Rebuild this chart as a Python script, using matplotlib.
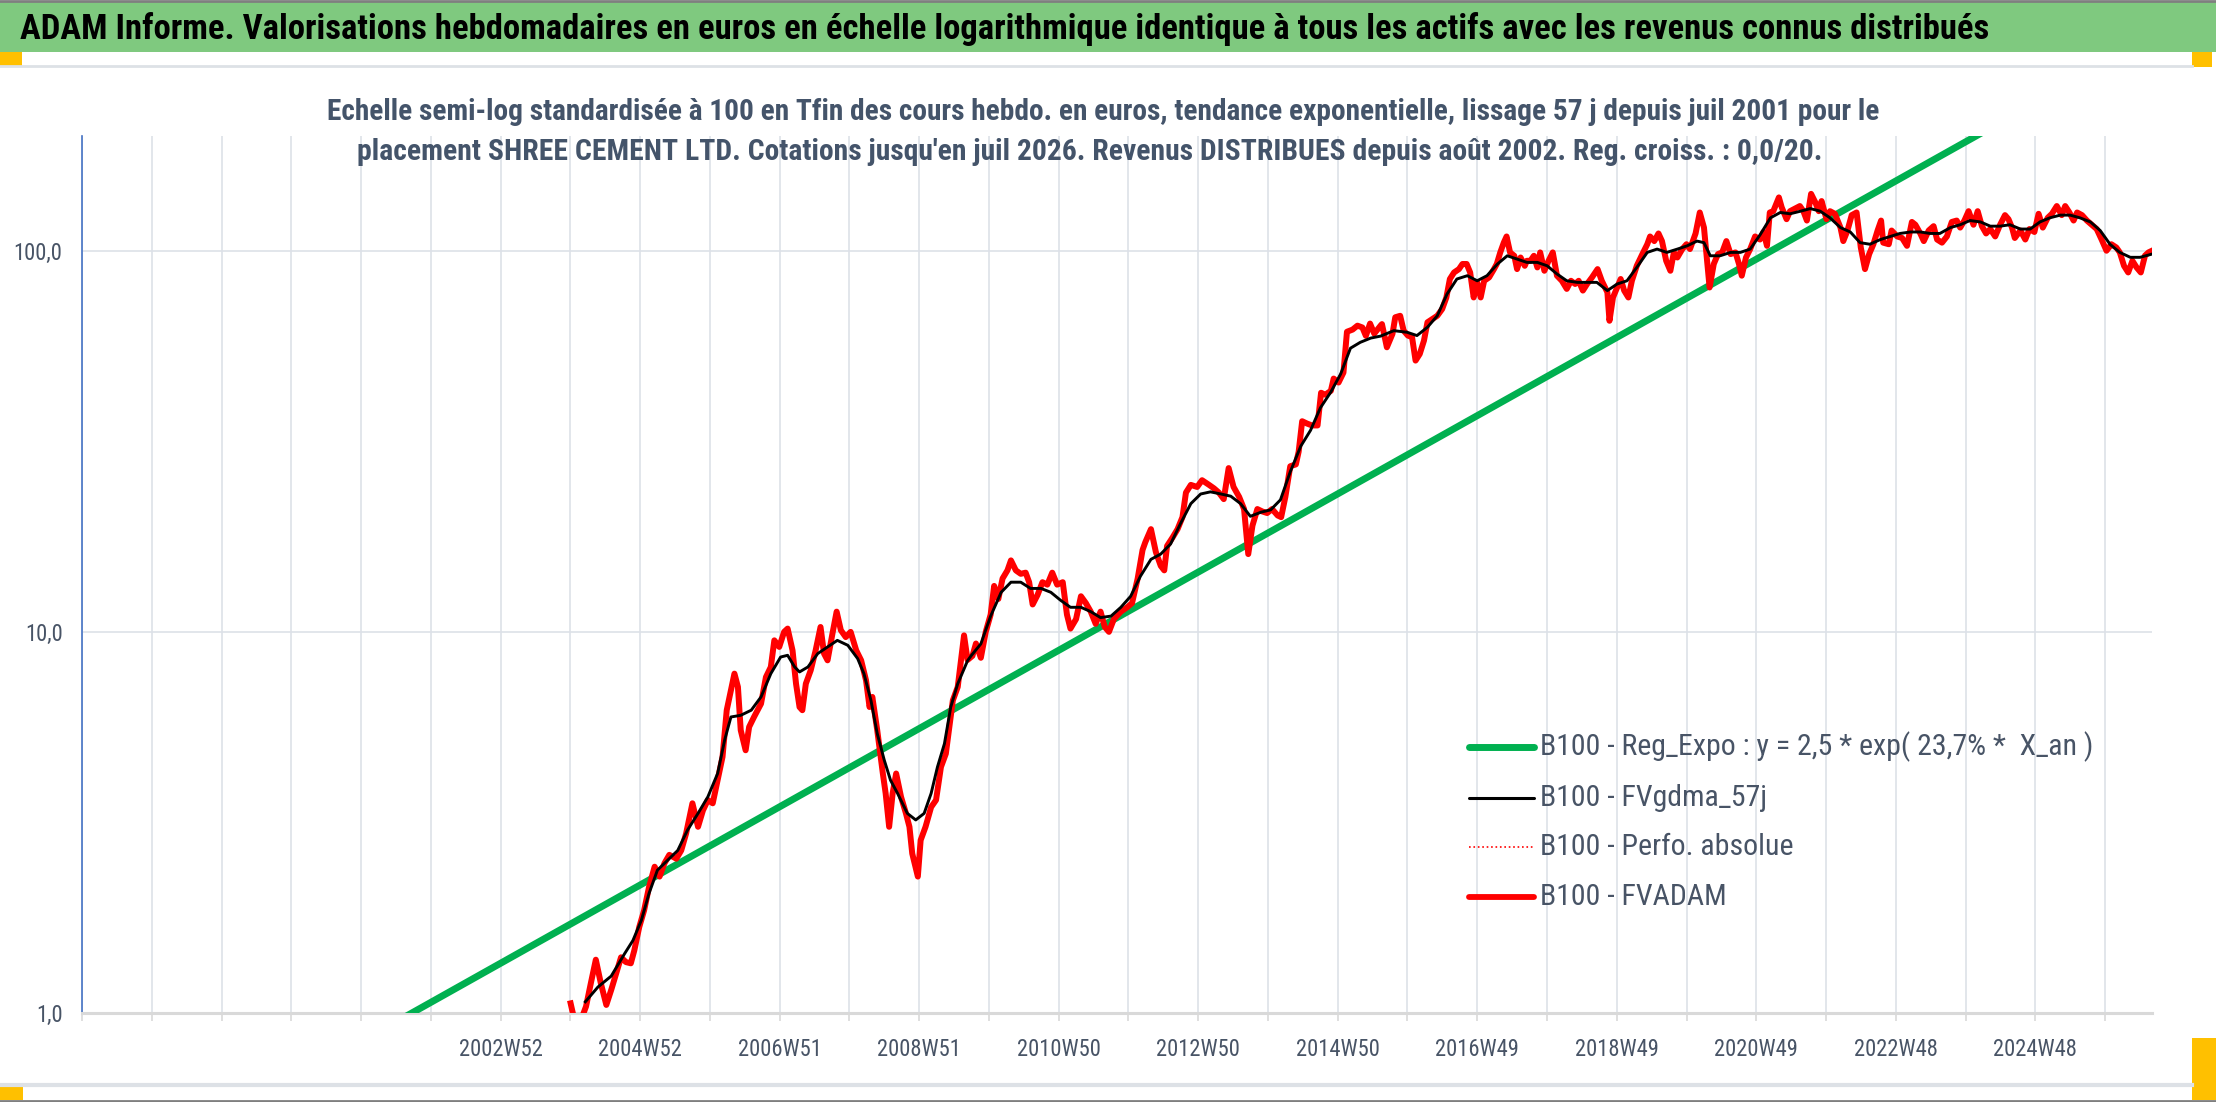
import matplotlib.pyplot as plt
from matplotlib import font_manager
from matplotlib.patches import Rectangle
from matplotlib.lines import Line2D
from matplotlib.ticker import FixedLocator, NullLocator

# the chart uses a narrow Calibri-like face; take the narrowest one installed
installed = {f.name for f in font_manager.fontManager.ttflist}
main_font = 'DejaVu Sans'
for cand in ['Liberation Sans Narrow', 'Roboto Condensed', 'Open Sans Condensed', 'Lato',
             'Roboto', 'Liberation Sans']:
    if cand in installed:
        main_font = cand
        break
plt.rcParams['font.family'] = [main_font, 'DejaVu Sans']

# ---- data (decimal years, base 100 values) ----
red_years = [
    2003.99, 2004.06, 2004.13, 2004.21, 2004.28, 2004.35, 2004.42, 2004.50, 2004.57, 2004.64,
    2004.71, 2004.78, 2004.85, 2004.90, 2004.97, 2005.04, 2005.11, 2005.19, 2005.26, 2005.33,
    2005.40, 2005.50, 2005.57, 2005.64, 2005.73, 2005.81, 2005.88, 2005.95, 2006.02, 2006.09,
    2006.16, 2006.22, 2006.28, 2006.33, 2006.38, 2006.42, 2006.49, 2006.54, 2006.61, 2006.71,
    2006.78, 2006.85, 2006.90, 2006.97, 2007.04, 2007.09, 2007.16, 2007.21, 2007.26, 2007.30,
    2007.35, 2007.42, 2007.49, 2007.56, 2007.61, 2007.66, 2007.73, 2007.79, 2007.85, 2007.92,
    2007.99, 2008.07, 2008.14, 2008.21, 2008.26, 2008.30, 2008.37, 2008.45, 2008.49, 2008.54,
    2008.59, 2008.64, 2008.71, 2008.78, 2008.83, 2008.87, 2008.95, 2008.99, 2009.06, 2009.14,
    2009.21, 2009.28, 2009.35, 2009.40, 2009.45, 2009.52,
    2009.61, 2009.66, 2009.73, 2009.78, 2009.85, 2009.92, 2009.99, 2010.04, 2010.10, 2010.16,
    2010.23, 2010.28, 2010.35, 2010.42, 2010.49, 2010.54, 2010.59, 2010.66, 2010.73, 2010.80,
    2010.87, 2010.94, 2011.02, 2011.08, 2011.13, 2011.21, 2011.28, 2011.35, 2011.42, 2011.49,
    2011.56, 2011.62, 2011.68, 2011.75, 2011.85, 2011.94, 2012.01, 2012.09, 2012.16, 2012.20,
    2012.28, 2012.35, 2012.42, 2012.47, 2012.51, 2012.59, 2012.66, 2012.73, 2012.78, 2012.85,
    2012.94, 2013.01, 2013.11, 2013.18, 2013.25, 2013.32, 2013.39, 2013.46, 2013.54, 2013.61,
    2013.67, 2013.73, 2013.80, 2013.87, 2013.94, 2014.01, 2014.09, 2014.14, 2014.20, 2014.27,
    2014.35, 2014.39, 2014.44, 2014.51, 2014.58, 2014.66, 2014.71, 2014.77, 2014.85, 2014.89,
    2014.96, 2015.03, 2015.08, 2015.16, 2015.23, 2015.30, 2015.35, 2015.41, 2015.47, 2015.56,
    2015.58, 2015.65, 2015.73, 2015.77, 2015.84, 2015.89, 2015.95, 2016.01, 2016.06, 2016.12,
    2016.18, 2016.23, 2016.30, 2016.37, 2016.44, 2016.50, 2016.55, 2016.61, 2016.68, 2016.73,
    2016.79, 2016.84, 2016.89, 2016.94, 2016.99, 2017.04, 2017.11, 2017.18, 2017.22, 2017.27,
    2017.32, 2017.36, 2017.41, 2017.47, 2017.51, 2017.56, 2017.62, 2017.65, 2017.70, 2017.75,
    2017.80, 2017.84, 2017.90, 2017.96, 2018.02, 2018.08, 2018.15, 2018.22, 2018.28, 2018.34,
    2018.39, 2018.45, 2018.51, 2018.58, 2018.66, 2018.72, 2018.80, 2018.83, 2018.88, 2018.94,
    2018.99, 2019.04, 2019.10, 2019.15, 2019.22, 2019.30, 2019.37, 2019.41, 2019.47, 2019.53,
    2019.58, 2019.64, 2019.70, 2019.75, 2019.80, 2019.87, 2019.93, 2019.98, 2020.06, 2020.12,
    2020.18, 2020.22, 2020.26, 2020.32, 2020.38, 2020.44, 2020.50, 2020.56, 2020.63, 2020.68,
    2020.72, 2020.78, 2020.84, 2020.91, 2020.98, 2021.03, 2021.08,
    2021.12, 2021.17, 2021.25, 2021.29, 2021.36, 2021.41, 2021.48, 2021.55, 2021.60, 2021.65,
    2021.71, 2021.77, 2021.82, 2021.86, 2021.93, 2021.98, 2022.05, 2022.13, 2022.17, 2022.23,
    2022.29, 2022.36, 2022.42, 2022.48, 2022.54, 2022.60, 2022.66, 2022.71, 2022.74, 2022.82,
    2022.86, 2022.94, 2023.01, 2023.08, 2023.15, 2023.20, 2023.27, 2023.32, 2023.39, 2023.46,
    2023.51, 2023.58, 2023.65, 2023.72, 2023.79, 2023.84, 2023.90, 2023.96, 2024.03, 2024.09,
    2024.15, 2024.21, 2024.27, 2024.34, 2024.41, 2024.48, 2024.53, 2024.58, 2024.62, 2024.70,
    2024.77, 2024.83, 2024.90, 2024.96, 2025.02, 2025.09, 2025.15, 2025.22, 2025.29, 2025.34,
    2025.40, 2025.46, 2025.51, 2025.58, 2025.65, 2025.72, 2025.79, 2025.86, 2025.93, 2026.00,
    2026.07, 2026.12, 2026.18, 2026.24, 2026.30, 2026.36, 2026.42, 2026.48, 2026.53, 2026.58,
]
red_vals = [
    1.06, 0.93, 0.95, 1.04, 1.20, 1.38, 1.20, 1.05, 1.15, 1.27,
    1.40, 1.36, 1.35, 1.46, 1.68, 1.86, 2.14, 2.42, 2.28, 2.47,
    2.60, 2.54, 2.67, 2.96, 3.55, 3.08, 3.40, 3.62, 3.55, 4.08,
    4.70, 6.23, 7.03, 7.77, 7.17, 5.52, 4.89, 5.63, 5.98, 6.48,
    7.61, 8.09, 9.50, 9.13, 10.0, 10.2, 8.94, 7.31, 6.35, 6.23,
    7.31, 7.93, 8.94, 10.3, 8.77, 8.42, 9.89, 11.3, 10.1, 9.69,
    10.0, 8.94, 8.42, 7.46, 6.35, 6.75, 5.52, 4.25, 3.77, 3.08,
    3.77, 4.25, 3.69, 3.34, 3.08, 2.62, 2.28, 2.84, 3.08, 3.47,
    3.62, 4.42, 4.79, 5.63, 6.61, 7.17,
    9.79, 8.44, 8.65, 9.32, 8.55, 10.0, 11.1, 13.2, 12.2, 13.8,
    14.5, 15.4, 14.5, 14.2, 14.3, 13.5, 11.8, 12.5, 13.5, 13.3,
    14.3, 13.3, 13.5, 11.1, 10.2, 10.8, 12.4, 11.9, 11.3, 10.5,
    11.3, 10.3, 10.0, 10.8, 11.3, 11.6, 11.9, 13.8, 16.4, 17.2,
    18.6, 16.2, 14.9, 14.5, 16.8, 17.7, 18.6, 20.0, 23.2, 24.3,
    24.0, 25.0, 24.3, 23.8, 23.2, 22.3, 26.9, 24.0, 22.6, 21.0,
    16.0, 19.0, 21.0, 20.7, 20.5, 21.0, 20.2, 20.0, 22.6, 27.2,
    27.5, 29.7, 35.7, 35.2, 34.8, 34.8, 42.4, 41.9, 42.9, 46.2,
    45.1, 47.9, 61.3, 62.1, 63.6, 62.9, 59.8, 64.4, 60.6, 63.6,
    64.2, 55.8, 60.5, 66.9, 67.5, 61.7, 59.9, 59.3, 51.5, 53.6,
    58.1, 64.9, 66.2, 67.5, 70.3, 75.4, 84.3, 87.7, 89.5, 92.3,
    92.3, 87.7, 75.4, 82.6, 75.4, 83.4, 85.1, 89.5, 92.3, 99.0,
    105, 109, 99.0, 97.0, 89.5, 96.0, 91.3, 94.1, 94.1, 97.0,
    90.4, 99.0, 88.6, 94.1, 99.0, 86.0, 83.4, 79.4, 83.4, 81.8,
    83.4, 78.6, 81.8, 85.1, 89.5, 83.4, 77.8, 65.5, 75.4, 80.1,
    84.3, 78.6, 75.4, 83.4, 91.3, 98.0, 104, 109, 106, 111,
    106, 94.1, 88.6, 99.0, 96.0, 101, 104, 101, 111, 126,
    115, 96.0, 80.1, 92.3, 98.0, 99.0, 106, 98.0, 99.0, 92.3,
    86.0, 96.0, 101, 109, 107, 112, 103,
    126, 127, 138, 130, 121, 127, 129, 131, 127, 120,
    141, 134, 127, 135, 121, 127, 125, 115, 106, 113,
    124, 126, 102, 89.5, 98.0, 104, 113, 120, 105, 104,
    113, 109, 108, 103, 119, 117, 111, 106, 113, 116,
    107, 105, 109, 119, 120, 115, 120, 127, 117, 127,
    116, 111, 114, 109, 117, 124, 121, 115, 108, 113,
    107, 114, 112, 125, 115, 122, 125, 131, 124, 131,
    126, 120, 126, 124, 120, 117, 114, 107, 100, 104,
    102, 99.0, 91.3, 87.7, 94.1, 90.4, 87.7, 97.1, 99.0, 100,
]

black_years = [
    2004.20, 2004.38, 2004.57, 2004.76, 2004.88, 2005.00, 2005.11, 2005.23, 2005.38, 2005.52,
    2005.66, 2005.81, 2005.95, 2006.09, 2006.19, 2006.28, 2006.42, 2006.57, 2006.71, 2006.85,
    2006.99, 2007.09, 2007.19, 2007.26, 2007.38, 2007.52, 2007.66, 2007.80, 2007.95, 2008.09,
    2008.18, 2008.28, 2008.37, 2008.47, 2008.56, 2008.66, 2008.80, 2008.92, 2009.04, 2009.14,
    2009.23, 2009.33, 2009.42, 2009.52, 2009.66,
    2009.71, 2009.85, 2009.99, 2010.14, 2010.28, 2010.42, 2010.56, 2010.71, 2010.85, 2010.99,
    2011.13, 2011.28, 2011.42, 2011.56, 2011.71, 2011.85, 2011.99, 2012.13, 2012.28, 2012.42,
    2012.56, 2012.70, 2012.85, 2012.99, 2013.13, 2013.28, 2013.42, 2013.56, 2013.70, 2013.85,
    2013.99, 2014.13, 2014.27, 2014.42, 2014.56, 2014.70, 2014.85, 2014.99, 2015.13, 2015.27,
    2015.42, 2015.56, 2015.75, 2015.94, 2016.08, 2016.23, 2016.37, 2016.51, 2016.65, 2016.80,
    2016.94, 2017.08, 2017.23, 2017.37, 2017.51, 2017.65, 2017.80, 2017.94, 2018.08, 2018.22,
    2018.37, 2018.51, 2018.65, 2018.80, 2018.94, 2019.08, 2019.22, 2019.37, 2019.51, 2019.65,
    2019.80, 2019.94, 2020.08, 2020.18, 2020.27, 2020.41, 2020.56, 2020.70, 2020.84, 2020.98,
    2021.13, 2021.27, 2021.41, 2021.56, 2021.70, 2021.84, 2021.98, 2022.13, 2022.27, 2022.41,
    2022.55, 2022.70, 2022.84, 2022.98, 2023.13, 2023.27, 2023.41, 2023.55, 2023.70, 2023.84,
    2023.98, 2024.13, 2024.27, 2024.41, 2024.55, 2024.70, 2024.84, 2024.98, 2025.12, 2025.27,
    2025.41, 2025.55, 2025.70, 2025.84, 2025.98, 2026.12, 2026.27, 2026.41, 2026.58,
]
black_vals = [
    1.07, 1.17, 1.25, 1.43, 1.55, 1.75, 2.06, 2.37, 2.52, 2.67,
    3.02, 3.34, 3.69, 4.25, 5.20, 5.98, 6.04, 6.23, 6.75, 7.77,
    8.59, 8.68, 8.09, 7.85, 8.09, 8.77, 9.13, 9.50, 9.22, 8.51,
    7.77, 6.61, 5.41, 4.61, 4.08, 3.77, 3.34, 3.21, 3.34, 3.77,
    4.42, 5.09, 6.35, 7.31, 8.40,
    8.65, 9.30, 11.0, 12.7, 13.5, 13.5, 13.0, 13.0, 12.7, 12.1,
    11.6, 11.6, 11.3, 10.9, 11.0, 11.6, 12.4, 14.0, 15.5, 16.0,
    17.0, 19.2, 21.7, 23.0, 23.3, 23.0, 22.7, 21.7, 20.1, 20.6,
    20.9, 22.2, 26.3, 30.7, 33.8, 38.7, 42.6, 47.5, 55.5, 57.5,
    59.0, 59.7, 61.7, 61.1, 59.9, 63.0, 67.5, 77.0, 84.3, 86.0,
    83.4, 86.0, 92.3, 97.0, 95.1, 93.2, 93.2, 91.3, 86.9, 83.4,
    82.6, 82.6, 82.6, 78.6, 81.8, 83.4, 90.4, 99.0, 101, 99.0,
    101, 103, 106, 105, 97.0, 97.0, 99.0, 99.0, 101, 110,
    122, 126, 125, 127, 129, 127, 122, 115, 112, 105,
    104, 107, 109, 111, 112, 112, 111, 111, 115, 117,
    120, 119, 116, 116, 117, 114, 114, 119, 122, 124,
    124, 122, 119, 113, 104, 99.0, 96.1, 96.1, 98.0,
]

green_years = [2001.55, 2026.58]
green_vals = [0.96, 363.0]

x_labels = ['2002W52', '2004W52', '2006W51', '2008W51', '2010W50', '2012W50',
            '2014W50', '2016W49', '2018W49', '2020W49', '2022W48', '2024W48']
y_ticks = [1, 10, 100]
y_labels = ['1,0', '10,0', '100,0']

title = ("ADAM Informe. Valorisations hebdomadaires en euros en échelle logarithmique "
         "identique à tous les actifs avec les revenus connus distribués")
sub1 = ("Echelle semi-log standardisée à 100 en Tfin des cours hebdo. en euros, tendance "
        "exponentielle, lissage 57 j depuis juil 2001 pour le")
sub2 = ("placement SHREE CEMENT LTD. Cotations jusqu'en juil 2026. Revenus DISTRIBUES "
        "depuis août 2002. Reg. croiss. : 0,0/20.")
legend_labels = [
    "B100 - Reg_Expo : y = 2,5 * exp( 23,7% *  X_an )",
    "B100 - FVgdma_57j",
    "B100 - Perfo. absolue",
    "B100 - FVADAM",
]

W, H = 2216, 1102
fig = plt.figure(figsize=(W / 100, H / 100), dpi=100)
fig.patch.set_facecolor('white')
renderer = fig.canvas.get_renderer()


def box(x0, y0, x1, y1, color):
    fig.patches.append(Rectangle((x0 / W, 1 - y1 / H), (x1 - x0) / W, (y1 - y0) / H,
                                 transform=fig.transFigure, facecolor=color, lw=0, zorder=0))


def hline(y, x0, x1, color, lw, ls='-'):
    fig.add_artist(Line2D([x0 / W, x1 / W], [1 - y / H, 1 - y / H],
                          transform=fig.transFigure, color=color, lw=lw, ls=ls))


def fit_text(x, y, s, width_px, size, **kw):
    # shrink or grow the text so it spans the same width as in the reference
    t = fig.text(x / W, 1 - y / H, s, fontsize=size, **kw)
    w = t.get_window_extent(renderer).width
    t.set_fontsize(size * width_px / w)
    return t


def fitted_size(s, width_px, size, **kw):
    t = fig.text(0, 0, s, fontsize=size, **kw)
    w = t.get_window_extent(renderer).width
    t.remove()
    return size * width_px / w


# frame, title band and the orange handles
box(0, 2, W, 52, '#7FC97F')
box(0, 52, 22, 66, '#FFC000')
box(2192, 52, 2212, 67, '#FFC000')
box(2192, 1038, W, 1100, '#FFC000')
box(0, 1087, 23, 1100, '#FFC000')
hline(66, 0, 2192, '#DDE1E6', 2)
hline(1085, 0, 2192, '#DDE1E6', 3)
hline(1, 0, W, '#7F7F7F', 2)
hline(1101, 0, W, '#7F7F7F', 2)

fit_text(20, 29, title, 1968, 22, ha='left', va='center', fontweight='bold', color='black')
fit_text(1103, 112, sub1, 1551, 18, ha='center', va='center', fontweight='bold',
         color='#44546A')
fit_text(1090, 152, sub2, 1465, 18, ha='center', va='center', fontweight='bold',
         color='#44546A')

ax = fig.add_axes([82 / W, 1 - 1013 / H, (2152 - 82) / W, (1013 - 136) / H])
ax.set_facecolor('none')

ax.plot(green_years, green_vals, color='#00B050', lw=5, solid_capstyle='butt', zorder=3)
ax.plot(red_years, red_vals, color='#FF0000', lw=4.3, solid_joinstyle='round', zorder=4)
ax.plot(black_years, black_vals, color='black', lw=2.1, solid_joinstyle='round', zorder=5)

ax.set_yscale('log')
ax.set_ylim(1, 200)
ax.set_xlim(1997.01, 2026.58)

# Excel category axis: one gridline every 52 weeks, a label every 104 weeks
year_step = 52 / 52.18
grid_pos = [1997.01 + k * year_step for k in range(30)]
label_pos = [grid_pos[6 + 2 * i] for i in range(len(x_labels))]
other_pos = [p for i, p in enumerate(grid_pos) if not (i >= 6 and i % 2 == 0)]
ax.xaxis.set_major_locator(FixedLocator(label_pos))
ax.set_xticklabels(x_labels)
ax.xaxis.set_minor_locator(FixedLocator(other_pos))
ax.set_yticks(y_ticks)
ax.set_yticklabels(y_labels)
ax.yaxis.set_minor_locator(NullLocator())

tick_size = fitted_size('2002W52', 84, 17)
ax.grid(True, which='both', axis='x', color='#DDE1E8', lw=1.2, zorder=0)
ax.grid(True, which='major', axis='y', color='#DDE1E8', lw=1.2, zorder=0)
ax.tick_params(axis='x', which='both', length=6, width=1.2, color='#D9D9D9',
               labelsize=tick_size, labelcolor='#485466', pad=12)
ax.tick_params(axis='y', length=0, labelsize=tick_size, labelcolor='#485466', pad=14)

for s in ['top', 'right']:
    ax.spines[s].set_visible(False)
ax.spines['left'].set_color('#4472C4')
ax.spines['left'].set_linewidth(1.2)
ax.spines['bottom'].set_color('#D9D9D9')
ax.spines['bottom'].set_linewidth(2.2)

# legend, laid out like the Excel one
leg_styles = [
    dict(color='#00B050', lw=5),
    dict(color='black', lw=2.2),
    dict(color='#FF0000', lw=1.2, ls=':'),
    dict(color='#FF0000', lw=4.2),
]
leg_rows = [747, 798, 847, 897]
leg_size = fitted_size(legend_labels[0], 554, 18)
for lab, style, yrow in zip(legend_labels, leg_styles, leg_rows):
    fig.add_artist(Line2D([1469 / W, 1534 / W], [1 - yrow / H, 1 - yrow / H],
                          transform=fig.transFigure, solid_capstyle='round', **style))
    fig.text(1540 / W, 1 - yrow / H, lab, ha='left', va='center', fontsize=leg_size,
             color='#485466')

fig.savefig('out.png', dpi=100)
